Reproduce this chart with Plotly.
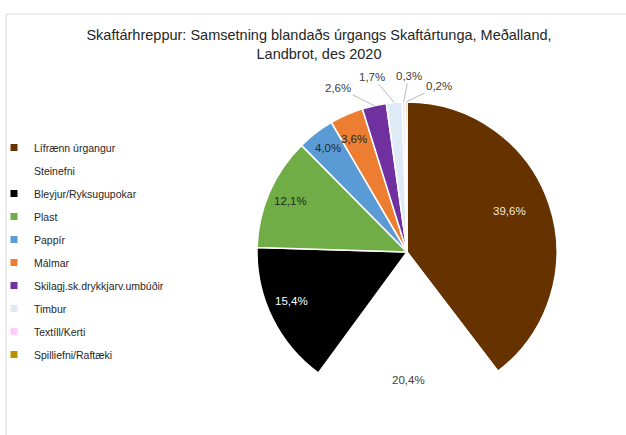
import math
import plotly.graph_objects as go

categories = ["Lífrænn úrgangur", "Steinefni", "Bleyjur/Ryksugupokar", "Plast", "Pappír",
              "Málmar", "Skilagj.sk.drykkjarv.umbúðir", "Timbur", "Textíll/Kerti", "Spilliefni/Raftæki"]
values = [39.6, 20.4, 15.4, 12.1, 4.0, 3.6, 2.6, 1.7, 0.3, 0.2]
colors = ["#663300", "#FFFFFF", "#000000", "#70AD47", "#5B9BD5", "#ED7D31", "#7030A0",
          "#DEEBF7", "#FFCCFF", "#BF9000"]

# label styling (not data): colour, radial position as fraction of radius, and
# for outside labels an offset (px) of the text from the slice edge
label_colors = ["#F2E6D9", "#404040", "#FFFFFF", "#262626", "#262626", "#262626", "#404040",
                "#404040", "#404040", "#404040"]
label_radius = [0.85, 0.91, 0.86, 0.85, 0.87, 0.88, 1.0, 1.0, 1.0, 1.0]
label_offset = [None, None, None, None, None, None, (-36, -18), (-22, -26), (5, -26), (33, -16)]

W, H = 626, 435
FONT = "Liberation Sans, Arial, sans-serif"
PIE_X = (257, 557)   # px
PIE_Y = (102, 402)   # px from top
cx, cy = sum(PIE_X) / 2, sum(PIE_Y) / 2
R = (PIE_X[1] - PIE_X[0]) / 2

fig = go.Figure()
fig.add_trace(go.Pie(
    labels=categories, values=values, sort=False, direction="clockwise", rotation=0,
    marker=dict(colors=colors, line=dict(color="#FFFFFF", width=1.5)),
    textinfo="none", showlegend=False, hoverinfo="label+percent",
    domain=dict(x=[PIE_X[0] / W, PIE_X[1] / W], y=[1 - PIE_Y[1] / H, 1 - PIE_Y[0] / H]),
))

for name, col in zip(categories, colors):
    fig.add_trace(go.Scatter(
        x=[None], y=[None], mode="markers", name=name, legendgroup=name,
        marker=dict(symbol="square", size=7, color=col),
        hoverinfo="skip",
    ))

total = sum(values)
annotations = []
cum = 0.0
for v, lc, rf, off in zip(values, label_colors, label_radius, label_offset):
    mid = (cum + v / 2) / total * 2 * math.pi
    cum += v
    px = cx + rf * R * math.sin(mid)
    py = cy - rf * R * math.cos(mid)
    txt = f"{v / total * 100:.1f}".replace(".", ",") + "%"
    a = dict(x=px / W, y=1 - py / H, xref="paper", yref="paper", text=txt,
             font=dict(family=FONT, size=11.5, color=lc))
    if off is None:
        a.update(showarrow=False)
    else:
        a.update(showarrow=True, ax=off[0], ay=off[1], arrowhead=0, arrowwidth=0.8,
                 arrowcolor="#A6A6A6", standoff=0)
    annotations.append(a)

fig.update_layout(
    width=W, height=H, margin=dict(l=0, r=0, t=0, b=0, autoexpand=False),
    paper_bgcolor="white", plot_bgcolor="white",
    title=dict(text="Skaftárhreppur: Samsetning blandaðs úrgangs Skaftártunga, Meðalland,<br>Landbrot, des 2020",
               x=319 / W, xanchor="center", y=1 - 40 / H, yanchor="top", yref="container",
               font=dict(family=FONT, size=14.5, color="#262626")),
    xaxis=dict(visible=False), yaxis=dict(visible=False),
    legend=dict(x=-6 / W, xanchor="left", y=1 - 133 / H, yanchor="top",
                font=dict(family=FONT, size=10.5, color="#262626"),
                tracegroupgap=4, bgcolor="rgba(0,0,0,0)"),
    annotations=annotations,
    shapes=[dict(type="rect", xref="paper", yref="paper", x0=6 / W, x1=1.02, y0=-0.02, y1=1 - 14 / H,
                 line=dict(color="#D9D9D9", width=1), fillcolor="rgba(0,0,0,0)", layer="below")],
)

fig.write_html("out.html", config={"displayModeBar": False},
               post_script="document.body.style.margin='0px';")
